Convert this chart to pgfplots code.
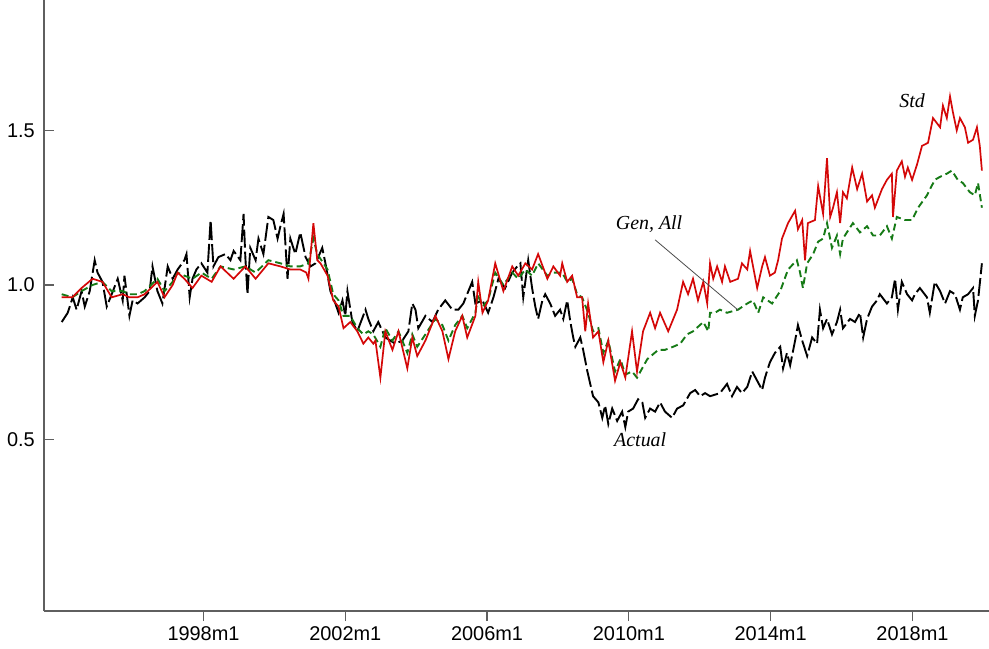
\documentclass[border=0pt]{standalone}
\usepackage{fontspec}
\setmainfont{Liberation Sans}
\newfontfamily\tnr{Liberation Serif}
\usepackage{pgfplots}
\pgfplotsset{compat=1.18}
\definecolor{stdred}{RGB}{212,8,8}
\definecolor{gengreen}{RGB}{22,122,22}
\definecolor{axgray}{RGB}{95,95,95}
\begin{document}
\begin{tikzpicture}
\begin{axis}[
 scale only axis, width=945bp, height=611bp,
 xmin=1993.5, xmax=2020.16, ymin=-0.055, ymax=1.922,
 axis x line*=bottom, axis y line*=left,
 axis line style={axgray, line width=1.2bp, -},
 tick align=inside, major tick length=10bp,
 tick style={axgray, line width=1.2bp},
 xtick={1998,2002,2006,2010,2014,2018},
 xticklabels={1998m1,2002m1,2006m1,2010m1,2014m1,2018m1},
 xtick style={yshift=-10bp},
 ytick={0.5,1,1.5}, yticklabels={0.5,1.0,1.5},
 ticklabel style={font=\fontsize{20}{24}\selectfont, text=black},
 xticklabel style={inner sep=0pt, anchor=north, yshift=-15bp},
 yticklabel style={inner sep=0pt, anchor=east, xshift=-9bp},
 clip=false,
]
\coordinate (O) at (rel axis cs:0,0);
% Actual
\addplot[black, line width=1.9bp, dash pattern=on 18bp off 4bp] coordinates {
(1994.00,0.88)(1994.17,0.91)(1994.31,0.96)(1994.42,0.92)(1994.56,0.98)(1994.65,0.93)(1994.79,0.98)(1994.93,1.08)(1995.01,1.04)(1995.15,1.01)
(1995.27,0.93)(1995.41,0.97)(1995.58,1.02)(1995.72,0.95)(1995.77,1.03)(1995.91,0.90)(1996.00,0.95)(1996.14,0.94)(1996.34,0.96)(1996.48,0.98)
(1996.56,1.06)(1996.70,0.98)(1996.84,0.94)(1996.99,1.06)(1997.13,1.02)(1997.27,1.05)(1997.46,1.08)(1997.52,1.10)(1997.61,0.96)(1997.69,1.02)
(1997.80,1.05)(1997.94,1.07)(1998.11,1.04)(1998.20,1.21)(1998.28,1.06)(1998.42,1.09)(1998.62,1.10)(1998.76,1.08)(1998.85,1.11)(1999.04,1.08)
(1999.13,1.23)(1999.18,1.09)(1999.24,0.97)(1999.32,1.12)(1999.47,1.08)(1999.55,1.15)(1999.69,1.10)(1999.83,1.22)(1999.97,1.21)(2000.09,1.15)
(2000.17,1.19)(2000.26,1.23)(2000.37,1.02)(2000.45,1.15)(2000.59,1.10)(2000.73,1.17)(2000.88,1.09)(2001.02,1.06)(2001.16,1.07)(2001.35,1.12)
(2001.44,1.07)(2001.58,0.98)(2001.72,0.94)(2001.81,0.91)(2001.92,0.95)(2002.00,0.90)(2002.06,0.98)(2002.20,0.88)(2002.34,0.85)(2002.57,0.92)
(2002.65,0.89)(2002.79,0.85)(2002.93,0.88)(2003.13,0.83)(2003.41,0.81)(2003.61,0.82)(2003.78,0.85)(2003.89,0.94)(2003.98,0.92)(2004.06,0.86)
(2004.26,0.90)(2004.46,0.88)(2004.62,0.92)(2004.82,0.95)(2005.02,0.92)(2005.19,0.92)(2005.33,0.94)(2005.58,1.01)(2005.67,0.94)(2005.87,0.95)
(2006.03,0.91)(2006.18,0.96)(2006.32,1.02)(2006.51,0.99)(2006.71,1.04)(2006.85,1.06)(2006.94,1.07)(2007.02,0.96)(2007.16,1.08)(2007.27,0.99)
(2007.36,0.93)(2007.44,0.89)(2007.56,0.95)(2007.64,0.97)(2007.78,0.94)(2007.92,0.90)(2008.06,0.92)(2008.15,0.89)(2008.26,0.95)(2008.35,0.88)
(2008.43,0.83)(2008.49,0.80)(2008.63,0.83)(2008.71,0.79)(2008.83,0.72)(2008.91,0.68)(2008.99,0.64)(2009.14,0.62)(2009.25,0.57)(2009.33,0.61)
(2009.42,0.55)(2009.53,0.60)(2009.67,0.56)(2009.81,0.59)(2009.90,0.54)(2009.98,0.59)(2010.12,0.60)(2010.26,0.63)(2010.38,0.62)(2010.46,0.57)
(2010.60,0.60)(2010.74,0.59)(2010.88,0.62)(2011.02,0.59)(2011.22,0.57)(2011.36,0.60)(2011.53,0.61)(2011.73,0.65)(2011.87,0.66)(2012.01,0.64)
(2012.15,0.65)(2012.29,0.64)(2012.57,0.65)(2012.77,0.68)(2012.91,0.64)(2013.05,0.67)(2013.19,0.65)(2013.34,0.67)(2013.48,0.72)(2013.62,0.69)
(2013.76,0.66)(2013.84,0.70)(2013.98,0.75)(2014.12,0.78)(2014.27,0.80)(2014.35,0.73)(2014.46,0.78)(2014.55,0.74)(2014.69,0.82)(2014.77,0.87)
(2014.89,0.82)(2015.03,0.77)(2015.17,0.83)(2015.31,0.81)(2015.39,0.92)(2015.48,0.86)(2015.59,0.89)(2015.73,0.84)(2015.87,0.88)(2015.96,0.92)
(2016.04,0.86)(2016.24,0.89)(2016.38,0.88)(2016.52,0.91)(2016.61,0.83)(2016.72,0.89)(2016.86,0.93)(2017.00,0.95)(2017.08,0.97)(2017.28,0.94)
(2017.42,0.96)(2017.51,1.02)(2017.59,0.92)(2017.70,1.01)(2017.85,0.97)(2017.99,0.95)(2018.07,0.97)(2018.21,0.99)(2018.41,0.96)(2018.49,0.91)
(2018.63,1.01)(2018.78,0.98)(2018.92,0.94)(2019.06,0.98)(2019.20,0.97)(2019.34,0.92)(2019.42,0.96)(2019.57,0.97)(2019.71,0.99)(2019.76,0.90)
(2019.85,0.95)(2019.96,1.07)
};
% Gen, All
\addplot[gengreen, line width=1.9bp, dash pattern=on 7bp off 4bp] coordinates {
(1994.00,0.97)(1994.30,0.96)(1994.56,0.98)(1994.87,1.00)(1995.15,1.01)(1995.41,0.98)(1995.72,0.98)(1995.91,0.97)(1996.14,0.97)(1996.34,0.98)
(1996.70,1.02)(1996.90,0.98)(1997.13,1.01)(1997.27,1.04)(1997.46,1.03)(1997.69,1.02)(1997.94,1.04)(1998.23,1.02)(1998.48,1.06)(1998.85,1.05)
(1999.18,1.06)(1999.47,1.04)(1999.83,1.08)(2000.17,1.07)(2000.45,1.06)(2000.73,1.06)(2000.96,1.07)(2001.10,1.15)(2001.21,1.10)(2001.50,1.05)
(2001.66,0.97)(2001.81,0.95)(2001.95,0.90)(2002.14,0.90)(2002.34,0.86)(2002.51,0.84)(2002.65,0.85)(2002.79,0.84)(2002.99,0.80)(2003.13,0.86)
(2003.33,0.82)(2003.50,0.85)(2003.75,0.78)(2003.89,0.84)(2004.03,0.80)(2004.26,0.84)(2004.54,0.89)(2004.74,0.87)(2004.91,0.82)(2005.10,0.87)
(2005.30,0.90)(2005.44,0.86)(2005.67,0.91)(2005.75,0.97)(2005.87,0.93)(2006.03,0.95)(2006.23,1.04)(2006.46,1.00)(2006.71,1.04)(2006.88,1.02)
(2007.08,1.05)(2007.27,1.03)(2007.44,1.07)(2007.70,1.03)(2007.87,1.04)(2008.12,1.04)(2008.26,1.01)(2008.40,1.02)(2008.54,0.97)(2008.68,0.96)
(2008.85,0.91)(2008.99,0.85)(2009.14,0.86)(2009.28,0.78)(2009.42,0.82)(2009.61,0.72)(2009.76,0.76)(2009.90,0.71)(2010.09,0.72)(2010.23,0.70)
(2010.52,0.76)(2010.83,0.79)(2011.02,0.79)(2011.25,0.80)(2011.45,0.81)(2011.64,0.84)(2011.81,0.85)(2012.10,0.88)(2012.24,0.85)(2012.29,0.91)
(2012.43,0.91)(2012.57,0.92)(2012.77,0.91)(2013.08,0.92)(2013.34,0.94)(2013.50,0.95)(2013.65,0.91)(2013.79,0.96)(2014.04,0.94)(2014.27,0.98)
(2014.49,1.05)(2014.74,1.08)(2014.83,1.04)(2014.91,0.99)(2015.03,1.07)(2015.20,1.10)(2015.34,1.14)(2015.48,1.15)(2015.59,1.20)(2015.73,1.12)
(2015.87,1.16)(2015.96,1.10)(2016.04,1.15)(2016.15,1.17)(2016.32,1.20)(2016.52,1.17)(2016.72,1.19)(2016.89,1.16)(2017.08,1.16)(2017.28,1.19)
(2017.42,1.15)(2017.56,1.22)(2017.79,1.21)(2017.99,1.21)(2018.16,1.25)(2018.41,1.29)(2018.63,1.34)(2018.78,1.35)(2018.97,1.36)(2019.11,1.37)
(2019.28,1.34)(2019.42,1.33)(2019.62,1.30)(2019.76,1.29)(2019.85,1.33)(2019.96,1.25)
};
% Std
\addplot[stdred, line width=1.7bp] coordinates {
(1994.00,0.96)(1994.30,0.96)(1994.56,0.99)(1994.87,1.02)(1995.15,1.01)(1995.41,0.96)(1995.72,0.97)(1995.91,0.96)(1996.14,0.96)(1996.34,0.97)
(1996.70,1.01)(1996.90,0.96)(1997.13,1.00)(1997.27,1.04)(1997.46,1.02)(1997.69,0.99)(1997.94,1.03)(1998.23,1.01)(1998.48,1.06)(1998.85,1.02)
(1999.18,1.06)(1999.47,1.02)(1999.83,1.07)(2000.17,1.06)(2000.45,1.05)(2000.73,1.05)(2000.90,1.04)(2000.96,1.02)(2001.10,1.20)(2001.21,1.08)
(2001.30,1.07)(2001.50,1.03)(2001.66,0.95)(2001.81,0.93)(2001.95,0.86)(2002.14,0.88)(2002.34,0.85)(2002.51,0.81)(2002.65,0.83)(2002.79,0.81)
(2002.85,0.82)(2002.99,0.70)(2003.13,0.85)(2003.33,0.79)(2003.50,0.85)(2003.75,0.73)(2003.89,0.83)(2004.03,0.77)(2004.26,0.82)(2004.54,0.90)
(2004.74,0.85)(2004.91,0.76)(2005.10,0.85)(2005.30,0.90)(2005.44,0.83)(2005.67,0.90)(2005.75,1.01)(2005.87,0.91)(2006.03,0.95)(2006.23,1.07)
(2006.46,0.98)(2006.71,1.06)(2006.88,1.03)(2007.08,1.07)(2007.27,1.05)(2007.44,1.10)(2007.70,1.02)(2007.87,1.06)(2008.06,1.03)(2008.12,1.07)
(2008.26,1.01)(2008.40,1.03)(2008.54,0.96)(2008.68,0.96)(2008.77,0.85)(2008.85,0.94)(2008.99,0.83)(2009.14,0.85)(2009.28,0.75)(2009.42,0.82)
(2009.61,0.69)(2009.76,0.75)(2009.90,0.70)(2010.09,0.85)(2010.23,0.72)(2010.40,0.85)(2010.60,0.91)(2010.74,0.86)(2010.88,0.91)(2011.11,0.85)
(2011.36,0.92)(2011.53,1.01)(2011.67,0.97)(2011.81,1.02)(2011.95,0.95)(2012.10,1.01)(2012.21,0.94)(2012.29,1.07)(2012.38,1.02)(2012.49,1.06)
(2012.63,1.01)(2012.71,1.06)(2012.86,1.01)(2013.08,1.02)(2013.19,1.07)(2013.34,1.05)(2013.42,1.11)(2013.62,0.99)(2013.76,1.06)(2013.84,1.09)
(2013.98,1.03)(2014.12,1.04)(2014.21,1.08)(2014.32,1.15)(2014.49,1.20)(2014.69,1.24)(2014.77,1.18)(2014.89,1.21)(2014.97,1.08)(2015.05,1.20)
(2015.25,1.21)(2015.34,1.32)(2015.48,1.23)(2015.59,1.41)(2015.68,1.22)(2015.76,1.25)(2015.87,1.30)(2015.96,1.20)(2016.04,1.30)(2016.15,1.28)
(2016.30,1.38)(2016.44,1.31)(2016.58,1.36)(2016.72,1.27)(2016.86,1.29)(2016.94,1.25)(2017.14,1.31)(2017.28,1.34)(2017.42,1.36)(2017.45,1.22)
(2017.56,1.37)(2017.70,1.40)(2017.79,1.35)(2017.87,1.38)(2017.99,1.34)(2018.13,1.39)(2018.27,1.45)(2018.44,1.46)(2018.58,1.54)(2018.78,1.51)
(2018.86,1.58)(2018.97,1.54)(2019.06,1.61)(2019.14,1.56)(2019.25,1.50)(2019.34,1.54)(2019.48,1.51)(2019.57,1.46)(2019.71,1.47)(2019.82,1.51)
(2019.90,1.45)(2019.96,1.37)
};
\draw[black!70, line width=0.8bp] (axis cs:2010.74,1.146) -- (axis cs:2013.08,0.919);
\node[font=\tnr\itshape\fontsize{20}{24}\selectfont] at (axis cs:2017.99,1.595) {Std};
\node[font=\tnr\itshape\fontsize{20}{24}\selectfont] at (axis cs:2010.57,1.197) {Gen, All};
\node[font=\tnr\itshape\fontsize{20}{24}\selectfont] at (axis cs:2010.32,0.498) {Actual};
\end{axis}
\pgfresetboundingbox
\path[use as bounding box] (O) ++(-44bp,-38bp) rectangle ++(989bp,649bp);
\end{tikzpicture}
\end{document}
